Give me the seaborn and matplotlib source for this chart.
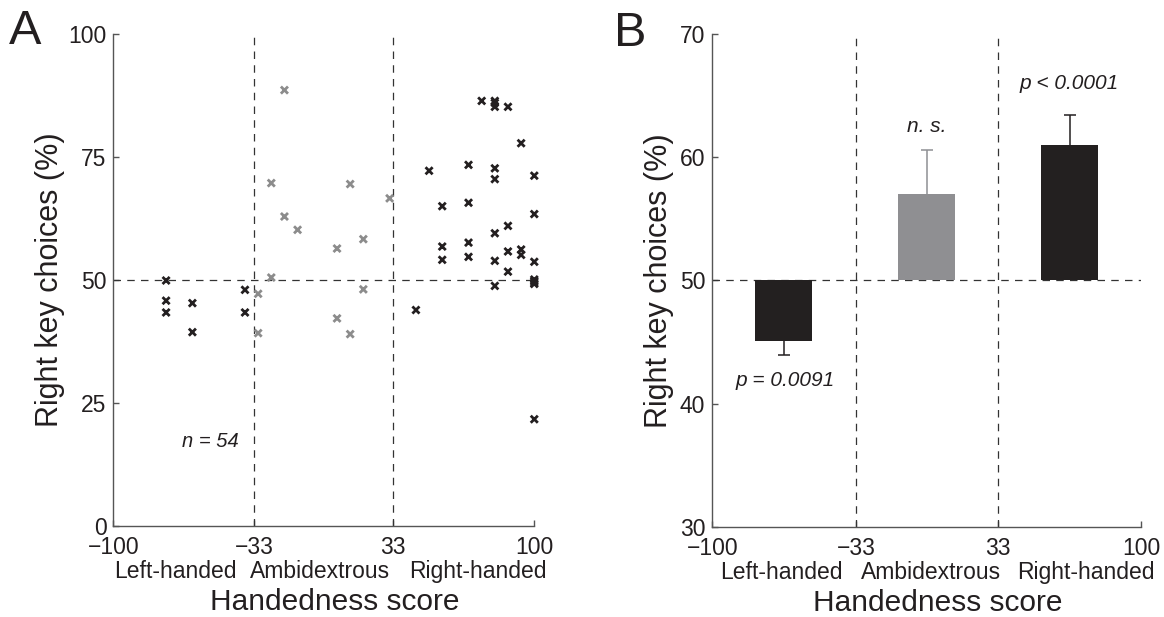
import numpy as np
import pandas as pd
import matplotlib
matplotlib.use("Agg")
import matplotlib.pyplot as plt
import seaborn as sns
from matplotlib.transforms import blended_transform_factory

# ---------------- data ----------------
score_left = [-75, -75, -75, -62.5, -62.5, -37.5, -37.5]
choice_left = [49.9, 45.8, 43.4, 45.3, 39.4, 48.0, 43.4]

score_ambi = [-31.25, -31.25, -25, -25, -18.75, -18.75, -12.5,
              6.25, 6.25, 12.5, 12.5, 18.75, 18.75, 31.25]
choice_ambi = [47.2, 39.2, 69.7, 50.5, 88.6, 62.9, 60.2,
               56.4, 42.2, 69.5, 39.0, 58.3, 48.1, 66.6]

score_right = [75, 81.25, 81.25, 87.5, 93.75, 50, 68.75, 81.25, 81.25, 100,
               56.25, 68.75, 100, 87.5, 81.25, 56.25, 68.75, 56.25, 68.75, 87.5,
               93.75, 93.75, 81.25, 100, 87.5, 100, 100, 81.25, 43.75, 100,
               100, 100, 81.25]
choice_right = [86.4, 86.4, 85.2, 85.2, 77.8, 72.2, 73.4, 72.7, 70.5, 71.2,
                65.0, 65.7, 63.4, 61.0, 59.5, 56.8, 57.6, 54.1, 54.7, 55.8,
                56.2, 55.1, 53.9, 53.7, 51.7, 50.1, 49.5, 48.8, 43.9, 21.7,
                49.8, 49.2, 86.0]

groups = ["Left-handed", "Ambidextrous", "Right-handed"]
bar_pos = [-66.7, 0, 66.7]
bar_mean = [45.1, 57.0, 61.0]
err_low = [1.2, 0.0, 0.0]
err_high = [0.0, 3.6, 2.4]
p_texts = ["p = 0.0091", "n. s.", "p < 0.0001"]
p_y = [41.9, 62.5, 66.0]
p_x = [-66.1, 0, 66.4]

xticks = [-100, -33, 33, 100]
xtick_labels = ["\u2212100", "\u221233", "33", "100"]
yticks_a = [0, 25, 50, 75, 100]
yticks_b = [30, 40, 50, 60, 70]
cat_x_a = [-70.5, -1.9, 73.3]
cat_x_b = [-67.7, 1.8, 74.0]

BLACK = "#231f20"
GRAY = "#8e8f93"
SGRAY = "#8c8c8c"

# ---------------- style ----------------
sns.set_style("ticks")
plt.rcParams["font.family"] = ["Liberation Sans", "DejaVu Sans"]
plt.rcParams["axes.edgecolor"] = "#555555"
plt.rcParams["axes.linewidth"] = 1.0

fig = plt.figure(figsize=(11.64, 6.17), dpi=100)
axA = fig.add_axes([0.0975, 0.1475, 0.3615, 0.7974])
axB = fig.add_axes([0.6119, 0.1464, 0.3686, 0.7985])

dash = (0, (6, 5))

# ---------------- panel A ----------------
df = pd.DataFrame({
    "score": score_left + score_ambi + score_right,
    "choice": choice_left + choice_ambi + choice_right,
    "group": ["L"] * len(score_left) + ["A"] * len(score_ambi) + ["R"] * len(score_right),
})
for ax in (axA, axB):
    ax.axvline(-33, color="#333333", lw=0.9, ls=dash, zorder=1)
    ax.axvline(33, color="#333333", lw=0.9, ls=dash, zorder=1)
    ax.axhline(50, color="#333333", lw=0.9, ls=dash, zorder=1)

sns.scatterplot(data=df, x="score", y="choice", hue="group",
                palette={"L": BLACK, "A": SGRAY, "R": BLACK},
                marker="x", s=26, linewidth=2.0, legend=False, ax=axA,
                zorder=3, clip_on=False)

axA.set_xlim(-100, 100)
axA.set_ylim(0, 100)
axA.set_xticks(xticks)
axA.set_xticklabels(xtick_labels)
axA.set_yticks(yticks_a)
axA.set_xlabel("")
axA.set_ylabel("")
axA.text(-54.1, 17.1, "n = 54", fontsize=14.5, style="italic", ha="center", va="center", color=BLACK)

# ---------------- panel B ----------------
dfb = pd.DataFrame({"pos": bar_pos, "h": [m - 50 for m in bar_mean], "group": groups})
sns.barplot(data=dfb, x="pos", y="h", hue="group", native_scale=True,
            palette={"Left-handed": BLACK, "Ambidextrous": GRAY, "Right-handed": BLACK},
            width=0.4, errorbar=None, bottom=50, legend=False, ax=axB,
            edgecolor="none", zorder=2)
ecols = [BLACK, GRAY, BLACK]
for x, m, lo, hi, c in zip(bar_pos, bar_mean, err_low, err_high, ecols):
    _, caps, _ = axB.errorbar([x], [m], yerr=[[lo], [hi]], fmt="none", ecolor=c,
                              elinewidth=1.1, capsize=4.5, capthick=1.1, zorder=3)
    if len(caps) == 2:
        caps[0 if lo == 0 else 1].set_visible(False)
for x, y, t in zip(p_x, p_y, p_texts):
    axB.text(x, y, t, fontsize=15, style="italic", ha="center", va="center", color=BLACK)

axB.set_xlim(-100, 100)
axB.set_ylim(30, 70)
axB.set_xticks(xticks)
axB.set_xticklabels(xtick_labels)
axB.set_yticks(yticks_b)
axB.set_xlabel("")
axB.set_ylabel("")

# ---------------- common decorations ----------------
for ax, catx, xl_x, yl_x in ((axA, cat_x_a, 0.526, -0.151), (axB, cat_x_b, 0.525, -0.124)):
    sns.despine(ax=ax)
    ax.tick_params(direction="in", length=4, width=1, color="#555555",
                   labelsize=16.5, labelcolor=BLACK)
    ax.tick_params(axis="x", pad=7.5)
    ax.tick_params(axis="y", pad=5)
    tr = blended_transform_factory(ax.transData, ax.transAxes)
    for cx, g in zip(catx, groups):
        ax.text(cx, -0.093, g, transform=tr, fontsize=16.5, ha="center", va="center", color=BLACK)
    ax.text(xl_x, -0.1545, "Handedness score", transform=ax.transAxes,
            fontsize=21.5, ha="center", va="center", color=BLACK)
    ax.text(yl_x, 0.5, "Right key choices (%)", transform=ax.transAxes,
            fontsize=22, ha="center", va="center", rotation=90, color=BLACK)

fig.text(25 / 1164, 1 - 31 / 617, "A", fontsize=35, ha="center", va="center", color=BLACK)
fig.text(630 / 1164, 1 - 33 / 617, "B", fontsize=35, ha="center", va="center", color=BLACK)

fig.savefig("out.png", dpi=100)
